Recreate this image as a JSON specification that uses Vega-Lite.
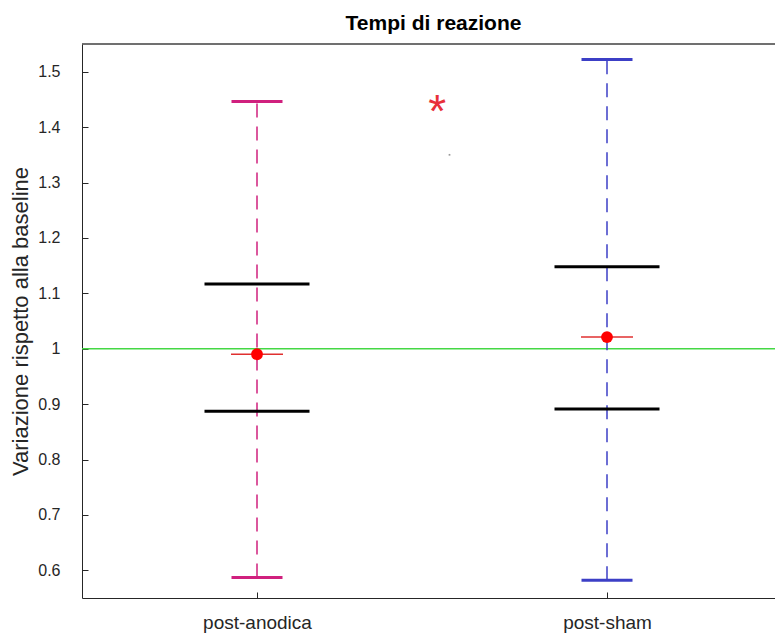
{
  "$schema": "https://vega.github.io/schema/vega-lite/v6.json",
  "width": 693,
  "height": 554,
  "autosize": {"type": "none"},
  "padding": {"left": 82, "top": 44, "right": 0, "bottom": 36},
  "background": "white",
  "title": {"text": "Tempi di reazione", "fontSize": 21, "fontWeight": "bold", "font": "Liberation Sans", "color": "#000000", "offset": 9, "anchor": "middle", "dx": 5},
  "config": {"view": {"stroke": null}, "font": "Liberation Sans"},
  "datasets": {
    "groups": [
      {"group": "post-anodica", "pos": 1, "lo": 0.587, "hi": 1.446, "q1": 0.887, "q3": 1.117, "mean": 0.990},
      {"group": "post-sham", "pos": 2, "lo": 0.582, "hi": 1.522, "q1": 0.891, "q3": 1.148, "mean": 1.021}
    ],
    "ref": [{"baseline": 1, "top": 1.55}],
    "annot": [{"label": "*", "ax": 1.515, "ay": 1.425}],
    "speck": [{"sx": 1.55, "sy": 1.35}]
  },
  "layer": [
    {
      "data": {"name": "ref"},
      "mark": {"type": "rule", "color": "#44d844", "strokeWidth": 1.5},
      "encoding": {
        "y": {"field": "baseline", "type": "quantitative",
          "scale": {"domain": [0.55, 1.55], "nice": false, "zero": false},
          "axis": {"title": "Variazione rispetto alla baseline", "values": [0.6, 0.7, 0.8, 0.9, 1, 1.1, 1.2, 1.3, 1.4, 1.5], "format": ".1~f", "grid": false,
            "domainColor": "#262626", "tickColor": "#262626", "tickSize": -6, "labelPadding": 28, "labelColor": "#262626", "labelFontSize": 16,
            "titleFontSize": 22, "titleFontWeight": "normal", "titleColor": "#262626", "titlePadding": 5}}
      }
    },
    {
      "data": {"name": "ref"},
      "mark": {"type": "rule", "color": "#404040", "strokeWidth": 1.5},
      "encoding": {"y": {"field": "top", "type": "quantitative"}}
    },
    {
      "data": {"name": "groups"},
      "mark": {"type": "rule", "strokeWidth": 1.5, "strokeDash": [14, 9]},
      "encoding": {
        "x": {"field": "pos", "type": "quantitative",
          "scale": {"domain": [0.5, 2.48], "nice": false, "zero": false},
          "axis": {"title": null, "values": [1, 2], "labelExpr": "datum.value == 1 ? 'post-anodica' : 'post-sham'", "grid": false,
            "domainColor": "#262626", "tickColor": "#262626", "tickSize": -6, "labelPadding": 21, "labelColor": "#262626", "labelFontSize": 19}},
        "y": {"field": "lo", "type": "quantitative"},
        "y2": {"field": "hi"},
        "color": {"field": "group", "type": "nominal", "scale": {"domain": ["post-anodica", "post-sham"], "range": ["#d0207e", "#3c3fc6"]}, "legend": null}
      }
    },
    {
      "data": {"name": "groups"},
      "mark": {"type": "tick", "orient": "horizontal", "size": 51, "thickness": 3, "opacity": 1},
      "encoding": {
        "x": {"field": "pos", "type": "quantitative"},
        "y": {"field": "hi", "type": "quantitative"},
        "color": {"field": "group", "type": "nominal", "legend": null}
      }
    },
    {
      "data": {"name": "groups"},
      "mark": {"type": "tick", "orient": "horizontal", "size": 51, "thickness": 3, "opacity": 1},
      "encoding": {
        "x": {"field": "pos", "type": "quantitative"},
        "y": {"field": "lo", "type": "quantitative"},
        "color": {"field": "group", "type": "nominal", "legend": null}
      }
    },
    {
      "data": {"name": "groups"},
      "mark": {"type": "tick", "orient": "horizontal", "size": 105, "thickness": 3, "color": "#000000", "opacity": 1},
      "encoding": {
        "x": {"field": "pos", "type": "quantitative"},
        "y": {"field": "q3", "type": "quantitative"}
      }
    },
    {
      "data": {"name": "groups"},
      "mark": {"type": "tick", "orient": "horizontal", "size": 105, "thickness": 3, "color": "#000000", "opacity": 1},
      "encoding": {
        "x": {"field": "pos", "type": "quantitative"},
        "y": {"field": "q1", "type": "quantitative"}
      }
    },
    {
      "data": {"name": "groups"},
      "mark": {"type": "tick", "orient": "horizontal", "size": 52, "thickness": 1.5, "color": "#e03030", "opacity": 1},
      "encoding": {
        "x": {"field": "pos", "type": "quantitative"},
        "y": {"field": "mean", "type": "quantitative"}
      }
    },
    {
      "data": {"name": "groups"},
      "mark": {"type": "point", "shape": "circle", "filled": true, "size": 140, "color": "#ff0000", "opacity": 1},
      "encoding": {
        "x": {"field": "pos", "type": "quantitative"},
        "y": {"field": "mean", "type": "quantitative"}
      }
    },
    {
      "data": {"name": "annot"},
      "mark": {"type": "text", "fontSize": 46, "color": "#e8303a", "baseline": "middle", "align": "center"},
      "encoding": {
        "x": {"field": "ax", "type": "quantitative"},
        "y": {"field": "ay", "type": "quantitative"},
        "text": {"field": "label"}
      }
    },
    {
      "data": {"name": "speck"},
      "mark": {"type": "point", "shape": "square", "filled": true, "size": 3, "color": "#999999", "opacity": 1},
      "encoding": {
        "x": {"field": "sx", "type": "quantitative"},
        "y": {"field": "sy", "type": "quantitative"}
      }
    }
  ]
}
